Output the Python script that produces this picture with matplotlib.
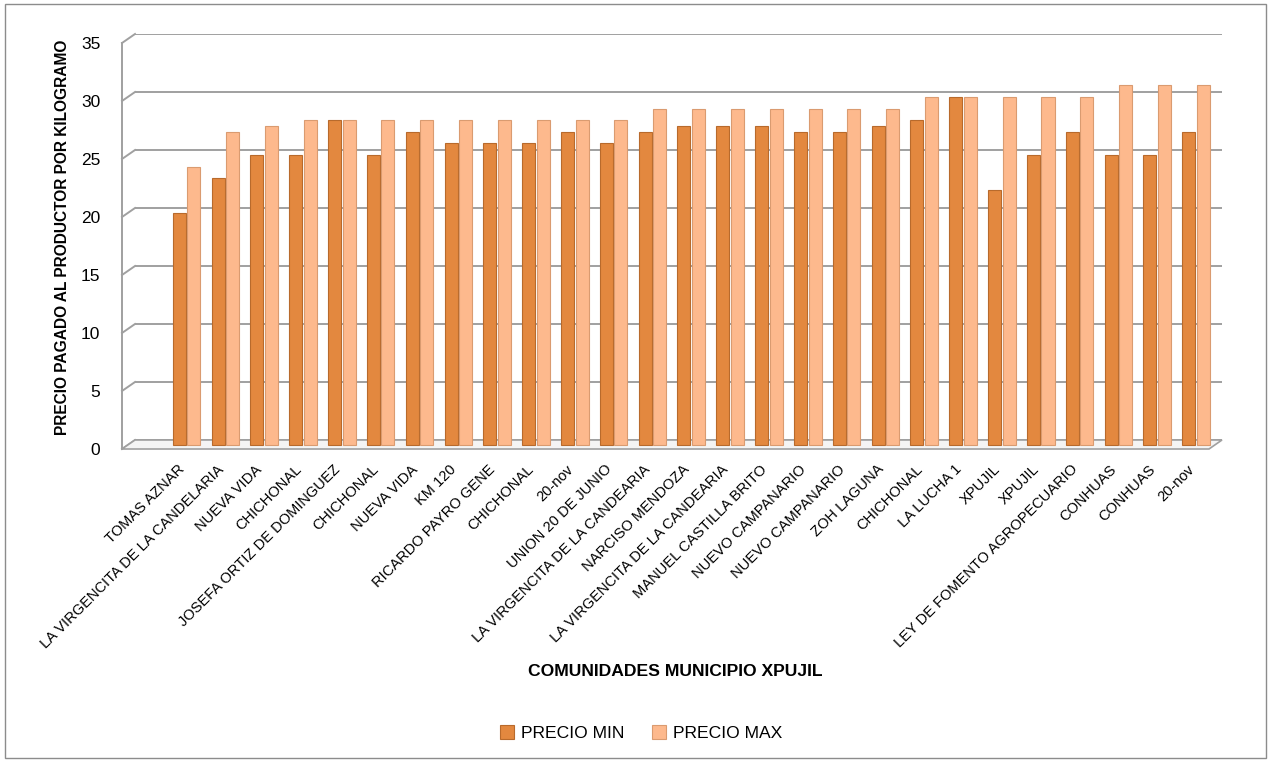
import matplotlib.pyplot as plt
import matplotlib.transforms as mtransforms
from matplotlib.patches import Rectangle, Polygon
import numpy as np

plt.rcParams['font.family'] = ['Liberation Sans', 'DejaVu Sans']

# Data
comunidades = [
    "TOMAS AZNAR", "LA VIRGENCITA DE LA CANDELARIA", "NUEVA VIDA", "CHICHONAL",
    "JOSEFA ORTIZ DE DOMINGUEZ", "CHICHONAL", "NUEVA VIDA", "KM 120",
    "RICARDO PAYRO GENE", "CHICHONAL", "20-nov", "UNION 20 DE JUNIO",
    "LA VIRGENCITA DE LA CANDEARIA", "NARCISO MENDOZA", "LA VIRGENCITA DE LA CANDEARIA",
    "MANUEL CASTILLA BRITO", "NUEVO CAMPANARIO", "NUEVO CAMPANARIO", "ZOH LAGUNA",
    "CHICHONAL", "LA LUCHA 1", "XPUJIL", "XPUJIL", "LEY DE FOMENTO AGROPECUARIO",
    "CONHUAS", "CONHUAS", "20-nov",
]
precio_min = [20, 23, 25, 25, 28, 25, 27, 26, 26, 26, 27, 26, 27, 27.5, 27.5,
              27.5, 27, 27, 27.5, 28, 30, 22, 25, 27, 25, 25, 27]
precio_max = [24, 27, 27.5, 28, 28, 28, 28, 28, 28, 28, 28, 28, 29, 29, 29,
              29, 29, 29, 29, 30, 30, 30, 30, 30, 31, 31, 31]
y_ticks = [0, 5, 10, 15, 20, 25, 30, 35]

color_min = '#E3883F'
color_max = '#FDB98D'
grid_c = '#a0a0a0'

W, H = 1271, 761
fig = plt.figure(figsize=(W / 100, H / 100), dpi=100)

def px(dx, dy):
    # offset in pixels (dy positive = up)
    return mtransforms.ScaledTranslation(dx / 100, dy / 100, fig.dpi_scale_trans)

# outer chart border
fig.patches.append(Rectangle((5 / W, 3 / H), 1 - 10 / W, 1 - 7 / H, transform=fig.transFigure,
                             fill=False, edgecolor='#8c8c8c', linewidth=1))

# axes = back wall of the 3D chart
ax = fig.add_axes([135 / W, (H - 440) / H, 1087 / W, 406 / H])
ax.set_xlim(-1.455, 26.54)
ax.set_ylim(0, 35)

x = np.arange(len(comunidades))
w = 0.335
bars_min = ax.bar(x - w / 2 - 0.02, precio_min, width=w, color=color_min, edgecolor='#B86A2C',
                  linewidth=0.8, zorder=3, label='PRECIO MIN')
bars_max = ax.bar(x + w / 2 + 0.02, precio_max, width=w, color=color_max, edgecolor='#DA9B70',
                  linewidth=0.8, zorder=3, label='PRECIO MAX')
# bars sit half way into the depth
for b in list(bars_min) + list(bars_max):
    b.set_transform(ax.transData + px(-5, -5))
    b.set_clip_on(False)

# gridlines plus the 3D wall stubs on the left
fdx, fdy = -13, -9
dx = fdx / 1087
dy = fdy / (406 / 35)
trans = mtransforms.blended_transform_factory(ax.transAxes, ax.transData)
for t in y_ticks:
    ax.axhline(t, color=grid_c, linewidth=1.4, zorder=1)
    ax.plot([0, dx], [t, t + dy], color=grid_c, linewidth=1.4, transform=trans,
            clip_on=False, zorder=1)
ax.plot([dx, dx], [dy, 35 + dy], color=grid_c, linewidth=1.4, transform=trans,
        clip_on=False, zorder=1)
# floor
floor = Polygon([(0, 0), (1, 0), (1 + dx, dy), (dx, dy)], closed=True, transform=trans,
                facecolor='#f4f4f4', edgecolor=grid_c, linewidth=1.2, clip_on=False, zorder=2)
ax.add_patch(floor)

for s in ax.spines.values():
    s.set_visible(False)
ax.set_yticks(y_ticks)
ax.set_yticklabels([str(t) for t in y_ticks], fontsize=12.5)
ax.tick_params(axis='y', length=0, pad=25)
for lab in ax.get_yticklabels():
    lab.set_transform(lab.get_transform() + px(0, fdy))

ax.set_xticks(x)
ax.set_xticklabels(comunidades, rotation=45, ha='right', rotation_mode='anchor',
                   fontsize=10.5)
ax.tick_params(axis='x', length=0, pad=16)
for lab in ax.get_xticklabels():
    lab.set_transform(lab.get_transform() + px(-14, 0))

fig.text(63 / W, 1 - 237 / H, 'PRECIO PAGADO AL PRODUCTOR POR KILOGRAMO', fontsize=11.2,
         fontweight='bold', rotation=90, ha='center', va='center')
fig.text(675 / W, 1 - 672 / H, 'COMUNIDADES MUNICIPIO XPUJIL', fontsize=12.6,
         fontweight='bold', ha='center', va='center')

fig.legend(loc='center', bbox_to_anchor=(641 / W, 1 - 733 / H), ncol=2, frameon=False,
           fontsize=12.6, handlelength=0.8, handleheight=0.8, columnspacing=1.6,
           handletextpad=0.4)

fig.savefig('out.png', dpi=100)
